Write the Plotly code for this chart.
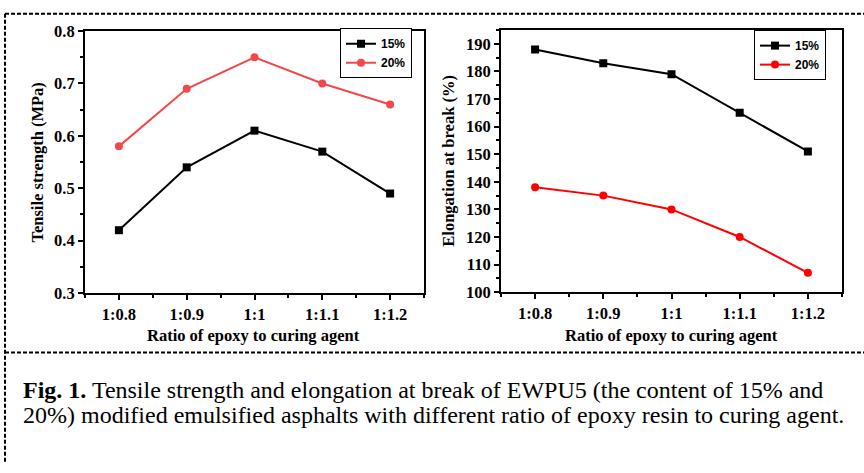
import plotly.graph_objects as go

categories = ["1:0.8", "1:0.9", "1:1", "1:1.1", "1:1.2"]
cat_pos = [1, 2, 3, 4, 5]
tensile_15 = [0.42, 0.54, 0.61, 0.57, 0.49]
tensile_20 = [0.58, 0.69, 0.75, 0.70, 0.66]
elong_15 = [188, 183, 179, 165, 151]
elong_20 = [138, 135, 130, 120, 107]
series_names = ["15%", "20%"]
left_ticks = [0.3, 0.4, 0.5, 0.6, 0.7, 0.8]
right_ticks = [100, 110, 120, 130, 140, 150, 160, 170, 180, 190]
caption_1 = "<b>Fig. 1.</b> Tensile strength and elongation at break of EWPU5 (the content of 15% and"
caption_2 = "20%) modified emulsified asphalts with different ratio of epoxy resin to curing agent."

W, H = 864, 473
def px(x):
    return x / W
def py(y):
    return 1 - y / H

SERIF = "Times New Roman, Liberation Serif, serif"
SANS = "Arial, Liberation Sans, sans-serif"

fig = go.Figure()

fig.add_trace(go.Scatter(x=cat_pos, y=tensile_15, mode="lines+markers", name=series_names[0],
                         line=dict(color="black", width=2), marker=dict(symbol="square", size=8, color="black"),
                         xaxis="x", yaxis="y", legend="legend"))
fig.add_trace(go.Scatter(x=cat_pos, y=tensile_20, mode="lines+markers", name=series_names[1],
                         line=dict(color="#F24848", width=2), marker=dict(symbol="circle", size=8, color="#F24848"),
                         xaxis="x", yaxis="y", legend="legend"))
fig.add_trace(go.Scatter(x=cat_pos, y=elong_15, mode="lines+markers", name=series_names[0],
                         line=dict(color="black", width=2), marker=dict(symbol="square", size=8, color="black"),
                         xaxis="x2", yaxis="y2", legend="legend2"))
fig.add_trace(go.Scatter(x=cat_pos, y=elong_20, mode="lines+markers", name=series_names[1],
                         line=dict(color="#FF0000", width=2), marker=dict(symbol="circle", size=8, color="#FF0000"),
                         xaxis="x2", yaxis="y2", legend="legend2"))

tickfont = dict(family=SERIF, size=16.5, color="black", weight="bold")
common = dict(showline=True, mirror=True, linewidth=2, linecolor="black", showgrid=False, zeroline=False,
              ticks="outside", ticklen=5, tickwidth=2, tickcolor="black", tickfont=tickfont)
minor_x = dict(ticks="outside", ticklen=3, tickwidth=2, tickcolor="black",
               tickvals=[0.5, 1.5, 2.5, 3.5, 4.5, 5.5], showgrid=False)

fig.update_layout(
    width=W, height=H, margin=dict(l=0, r=0, t=0, b=0),
    paper_bgcolor="white", plot_bgcolor="white",
    xaxis=dict(domain=[px(85), px(424)], range=[0.5, 5.5], tickvals=cat_pos, ticktext=categories,
               anchor="y", minor=minor_x, **common),
    yaxis=dict(domain=[py(296), py(23)], range=[0.3, 0.8], tickvals=left_ticks, ticktext=["0.3", "0.4", "0.5", "0.6", "0.7", "0.8"],
               anchor="x", minor=dict(ticks="outside", ticklen=3, tickwidth=2, tickcolor="black", dtick=0.05, showgrid=False), **common),
    xaxis2=dict(domain=[px(501), px(842)], range=[0.5, 5.5], tickvals=cat_pos, ticktext=categories,
                anchor="y2", minor=minor_x, **common),
    yaxis2=dict(domain=[py(295), py(22)], range=[100, 195], tickvals=right_ticks,
                anchor="x2", minor=dict(ticks="outside", ticklen=3, tickwidth=2, tickcolor="black", dtick=5, showgrid=False), **common),
    legend=dict(x=px(412), xanchor="right", y=py(20), yanchor="top", bgcolor="white",
                bordercolor="black", borderwidth=1, itemwidth=30, tracegroupgap=0,
                font=dict(family=SANS, size=12, color="black", weight="bold")),
    legend2=dict(x=px(826), xanchor="right", y=py(22), yanchor="top", bgcolor="white",
                 bordercolor="black", borderwidth=1, itemwidth=30, tracegroupgap=0,
                 font=dict(family=SANS, size=12, color="black", weight="bold")),
    showlegend=True,
)

title_font = dict(family=SERIF, size=16.5, color="black", weight="bold")
annotations = [
    dict(text="Ratio of epoxy to curing agent", x=px(254), y=py(340), xref="paper", yref="paper",
         showarrow=False, font=title_font, xanchor="center", yanchor="middle"),
    dict(text="Ratio of epoxy to curing agent", x=px(671), y=py(340), xref="paper", yref="paper",
         showarrow=False, font=title_font, xanchor="center", yanchor="middle"),
    dict(text="Tensile strength (MPa)", x=px(38), y=py(160), xref="paper", yref="paper",
         showarrow=False, font=title_font, textangle=-90, xanchor="center", yanchor="middle"),
    dict(text="Elongation at break (%)", x=px(449), y=py(158), xref="paper", yref="paper",
         showarrow=False, font=title_font, textangle=-90, xanchor="center", yanchor="middle"),
    dict(text=caption_1, x=px(21), y=py(397), xref="paper", yref="paper", showarrow=False,
         font=dict(family=SERIF, size=24, color="black"), xanchor="left", yanchor="middle"),
    dict(text=caption_2, x=px(21), y=py(423), xref="paper", yref="paper", showarrow=False,
         font=dict(family=SERIF, size=24, color="black"), xanchor="left", yanchor="middle"),
]
fig.update_layout(annotations=annotations)

dash_line = dict(color="black", width=2, dash="4px,2px")
shapes = [
    dict(type="line", xref="paper", yref="paper", x0=px(5), x1=1, y0=py(5), y1=py(5), line=dash_line),
    dict(type="line", xref="paper", yref="paper", x0=px(5), x1=px(5), y0=py(5), y1=0, line=dash_line),
    dict(type="line", xref="paper", yref="paper", x0=px(5), x1=1, y0=py(358), y1=py(358), line=dash_line),
]
fig.update_layout(shapes=shapes)

fig.write_html("out.html")
